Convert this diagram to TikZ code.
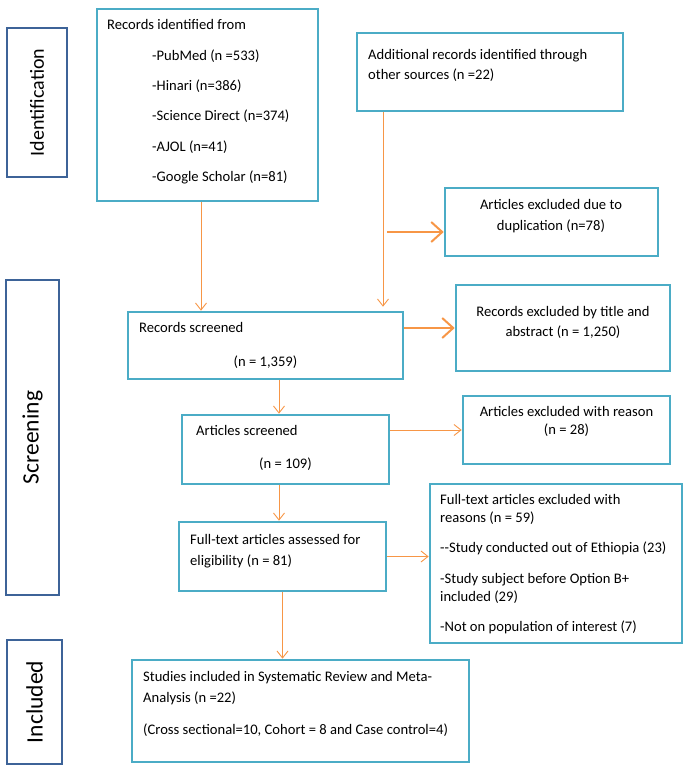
\documentclass[tikz,border=0pt]{standalone}
\usepackage{fontspec}
\setmainfont{Carlito}
\usetikzlibrary{arrows.meta,fit}
\definecolor{boxblue}{HTML}{4BACC6}
\definecolor{phaseblue}{HTML}{3D6398}
\definecolor{arrorange}{HTML}{F79646}
\tikzset{
  box/.style={draw=boxblue, line width=2.6pt, inner sep=0pt, fill=white},
  phasebox/.style={draw=phaseblue, line width=2.6pt, inner sep=0pt},
  txt/.style={inner sep=0pt, font=\fontsize{14.6}{17.5}\selectfont},
  phaselbl/.style={rotate=90, inner sep=0pt},
  thinarr/.style={draw=arrorange, line width=0.9pt, -{Straight Barb[length=7pt,width=11pt,line width=0.9pt]}},
  thickarr/.style={draw=arrorange, line width=2.4pt, -{Straight Barb[length=11pt,width=20pt,line width=2pt]}},
}
\begin{document}
\begin{tikzpicture}[x=1pt,y=-1pt]
\useasboundingbox (0,0) rectangle (685,770);
% phase boxes
\node[phasebox, fit={(7,28) (67,177)}] (idp) {};
\node[phasebox, fit={(6,280) (59,595)}] (scp) {};
\node[phasebox, fit={(7,640) (62,764)}] (inp) {};
\node[phaselbl, font=\fontsize{20}{24}\selectfont] (idl) at (idp.center) {Identification};
\node[phaselbl, font=\fontsize{23.5}{28}\selectfont] (scl) at (scp.center) {Screening};
\node[phaselbl, font=\fontsize{23.5}{28}\selectfont] (inl) at (inp.center) {Included};
% boxes
\node[box, fit={(97,9) (318,201)}] (rid) {};
\node[box, fit={(357,33) (623,111)}] (add) {};
\node[box, fit={(445,188) (658,256)}] (dup) {};
\node[box, fit={(128,312) (403,379)}] (rs) {};
\node[box, fit={(456,285) (670,371)}] (rex) {};
\node[box, fit={(182,415) (389,484)}] (as) {};
\node[box, fit={(463,396) (670,464)}] (aex) {};
\node[box, fit={(179,522) (386,591)}] (ft) {};
\node[box, fit={(430,484) (682,643)}] (fex) {};
\node[box, fit={(132,660) (469,762)}] (st) {};
% texts
\node[txt, anchor=base west] (rid1) at (107,30) {Records identified from};
\node[txt, anchor=base west] (rid2) at (152,61) {-PubMed (n =533)};
\node[txt, anchor=base west] (rid3) at (152,91) {-Hinari (n=386)};
\node[txt, anchor=base west] (rid4) at (152,121) {-Science Direct (n=374)};
\node[txt, anchor=base west] (rid5) at (152,152) {-AJOL (n=41)};
\node[txt, anchor=base west] (rid6) at (152,182) {-Google Scholar (n=81)};
\node[txt, anchor=base west] (add1) at (368,60) {Additional records identified through};
\node[txt, anchor=base west] (add2) at (368,80) {other sources (n =22)};
\node[txt, anchor=base] (dup1) at (551,209) {Articles excluded due to};
\node[txt, anchor=base] (dup2) at (551,230) {duplication (n=78)};
\node[txt, anchor=base west] (rs1) at (139,332) {Records screened};
\node[txt, anchor=base] (rs2) at (265.5,366) {(n = 1,359)};
\node[txt, anchor=base] (rex1) at (563,316) {Records excluded by title and};
\node[txt, anchor=base] (rex2) at (563,336) {abstract (n = 1,250)};
\node[txt, anchor=base west] (as1) at (196,435) {Articles screened};
\node[txt, anchor=base] (as2) at (285.5,468) {(n = 109)};
\node[txt, anchor=base] (aex1) at (566.5,416) {Articles excluded with reason};
\node[txt, anchor=base] (aex2) at (566.5,434) {(n = 28)};
\node[txt, anchor=base west] (ft1) at (190,544) {Full-text articles assessed for};
\node[txt, anchor=base west] (ft2) at (190,565) {eligibility (n = 81)};
\node[txt, anchor=base west] (fex1) at (440,504) {Full-text articles excluded with};
\node[txt, anchor=base west] (fex2) at (440,522) {reasons (n = 59)};
\node[txt, anchor=base west] (fex3) at (440,552) {-{}-Study conducted out of Ethiopia (23)};
\node[txt, anchor=base west] (fex4) at (440,583) {-Study subject before Option B+};
\node[txt, anchor=base west] (fex5) at (440,601) {included (29)};
\node[txt, anchor=base west] (fex6) at (440,631) {-Not on population of interest (7)};
\node[txt, anchor=base west] (st1) at (143,681) {Studies included in Systematic Review and Meta-};
\node[txt, anchor=base west] (st2) at (143,702) {Analysis (n =22)};
\node[txt, anchor=base west] (st3) at (143,734) {(Cross sectional=10, Cohort = 8 and Case control=4)};
% connectors
\draw[thinarr] ([xshift=-6.5pt]rid.south) -- ([xshift=-6.5pt]rid.south |- rs.north);
\draw[thinarr] ([xshift=-107pt]add.south) -- ([xshift=-107pt,yshift=4pt]add.south |- rs.north);
\coordinate (dupstart) at ([xshift=-107pt]add.south |- 0,232);
\draw[thickarr] ([xshift=4pt]dupstart) -- (dupstart -| dup.west);
\draw[thickarr] (rex.west -| rs.east) -- (rex.west);
\draw[thinarr] ([xshift=13.5pt]rs.south) -- ([xshift=13.5pt]rs.south |- as.north);
\draw[thinarr] (aex.west -| as.east) -- (aex.west);
\draw[thinarr] ([xshift=-6.5pt]as.south) -- ([xshift=-6.5pt]as.south |- ft.north);
\draw[thinarr] (ft.east) -- (ft.east -| fex.west);
\draw[thinarr] (ft.south) -- (ft.south |- st.north);
\end{tikzpicture}
\end{document}
